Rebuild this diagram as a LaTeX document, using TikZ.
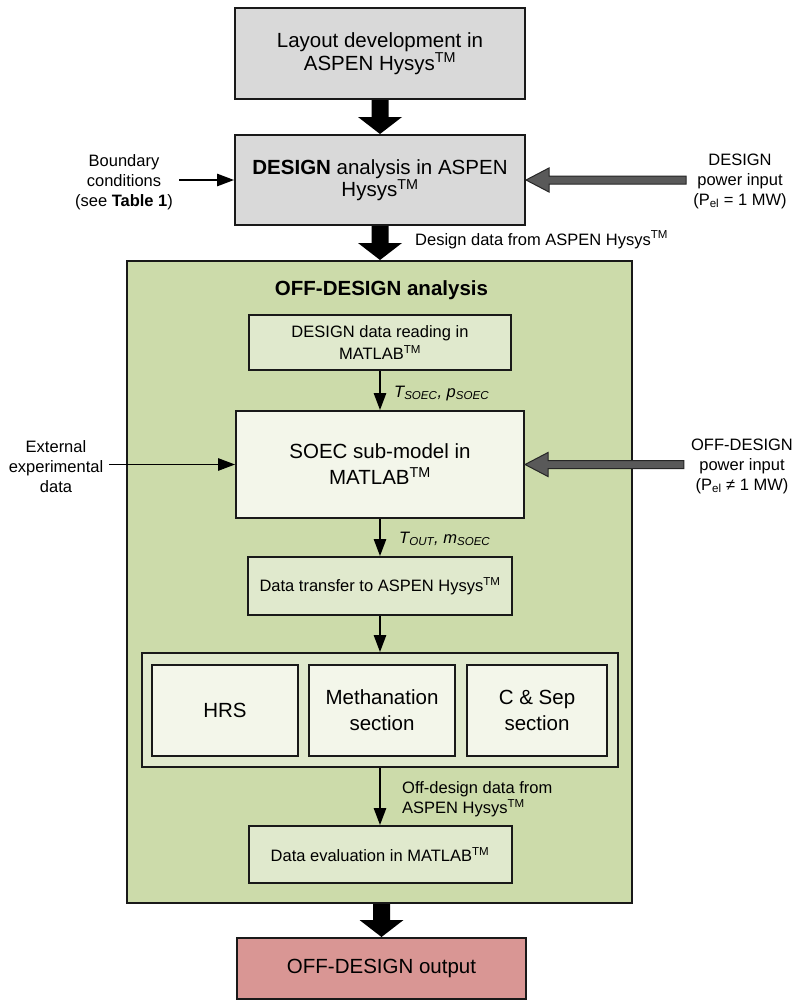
\documentclass[tikz,border=0pt]{standalone}
\usepackage{fontspec}
\setmainfont{Liberation Sans}
\usetikzlibrary{arrows.meta,calc}
\newcommand{\tm}{\textsuperscript{TM}}
\definecolor{boxgray}{HTML}{D9D9D9}
\definecolor{outgreen}{HTML}{CCDBAA}
\definecolor{midgreen}{HTML}{E0E9CD}
\definecolor{palegreen}{HTML}{F3F6EA}
\definecolor{outred}{HTML}{D99694}
\definecolor{arrgray}{HTML}{595959}
\newcommand{\nolsl}{\lineskiplimit=-100pt\relax}
\newcommand{\bigarrow}[2]{%
  \fill ($(#1)+(-8.5,0)$) -- ($(#2)+(-8.5,-17)$) -- ($(#2)+(-22,-17)$) -- (#2)
     -- ($(#2)+(22,-17)$) -- ($(#2)+(8.5,-17)$) -- ($(#1)+(8.5,0)$) -- cycle;}
\newcommand{\grayarrow}[2]{%
  \draw[grayarr] (#2) -- ++(23,-12) -- ++(0,8) -- ($(#1.west |- #2)+(0,-4)$)
     -- ++(0,8) -- ($(#2)+(23,4)$) -- ++(0,8) -- cycle;}
\begin{document}
\begin{tikzpicture}[x=1pt,y=-1pt,
  bigf/.style={font={\fontsize{20.5}{#1}\selectfont\nolsl}},
  bigf/.default=24,
  smallf/.style={font={\fontsize{16.5}{#1}\selectfont\nolsl}},
  smallf/.default=20,
  box/.style={draw=black!90, line width=2pt, align=center, inner sep=0pt},
  lab/.style={align=center, inner sep=6pt, smallf},
  thinarr/.style={line width=1.3pt, -{Triangle[length=17pt,width=12.5pt]}},
  grayarr/.style={fill=arrgray, draw=black!85, line width=1pt, line join=miter}
]
\fill[white] (0,0) rectangle (801,1001);
\useasboundingbox (0,0) rectangle (801,1001);

% top boxes
\node[box, fill=boxgray, minimum width=290, minimum height=91, bigf=23] (layout) at (380,53.5)
  {Layout development in\\ASPEN Hysys\tm};
\node[box, fill=boxgray, minimum width=290, minimum height=90, bigf=22.5] (design) at (380,180)
  {\textbf{DESIGN} analysis in ASPEN\\Hysys\tm};
\bigarrow{layout.south}{design.north}

% side labels design
\node[lab] (bc) at (124,182) {Boundary\\conditions\\(see \textbf{Table 1})};
\draw[thinarr] (bc.east |- design.west) -- (design.west);
\node[lab, inner sep=7pt] (dpin) at (740,181) {DESIGN\\power input\\(P\textsubscript{el} = 1 MW)};
\grayarrow{dpin}{design.east}

% off-design frame
\node[box, fill=outgreen, minimum width=505, minimum height=642] (offd) at (379.5,582) {};
\bigarrow{design.south}{design.south |- offd.north}
\node[smallf, anchor=base west, inner sep=0pt] (ddlab) at (415,245) {Design data from ASPEN Hysys\tm};
\node[bigf, anchor=base, inner sep=0pt] (offtitle) at (381.5,295) {\textbf{OFF-DESIGN analysis}};

\node[box, fill=midgreen, minimum width=262, minimum height=55, smallf=22] (read) at (380,342.5)
  {DESIGN data reading in\\MATLAB\tm};
\node[box, fill=palegreen, minimum width=288, minimum height=107, bigf=26] (soec) at (380,464.5)
  {SOEC sub-model in\\MATLAB\tm};
\draw[thinarr] (read.south) -- (soec.north);
\node[smallf, anchor=base west, inner sep=0pt] (tsoec) at (394,397)
  {\itshape T\textsubscript{SOEC}, p\textsubscript{SOEC}};

\node[lab] (ext) at (56,467) {External\\experimental\\data};
\draw[thinarr] (ext.east |- soec.west) -- (soec.west);
\node[lab, inner sep=7pt] (opin) at (742,466) {OFF-DESIGN\\power input\\(P\textsubscript{el} ≠ 1 MW)};
\grayarrow{opin}{soec.east}

\node[box, fill=midgreen, minimum width=264, minimum height=58, smallf] (transfer) at (380,586)
  {Data transfer to ASPEN Hysys\tm};
\draw[thinarr] (soec.south) -- (transfer.north);
\node[smallf, anchor=base west, inner sep=0pt] (tout) at (399,543)
  {\itshape T\textsubscript{OUT}, m\textsubscript{SOEC}};

\node[box, fill=midgreen, minimum width=476, minimum height=114] (sect) at (380,710) {};
\node[box, fill=palegreen, minimum width=146, minimum height=91, bigf] (hrs) at (225,710.5) {HRS};
\node[box, fill=palegreen, minimum width=146, minimum height=91, bigf=26] (meth) at (382,710.5) {Methanation\\section};
\node[box, fill=palegreen, minimum width=140, minimum height=91, bigf=26] (csep) at (537,710.5) {C \& Sep\\section};
\draw[thinarr] (transfer.south) -- (sect.north);

\node[box, fill=midgreen, minimum width=263, minimum height=57, smallf] (eval) at (380,854.5)
  {Data evaluation in MATLAB\tm};
\draw[thinarr] (sect.south) -- (eval.north);
\node[smallf, align=left, anchor=west, inner sep=0pt] (offlab) at (402,799)
  {Off-design data from\\ASPEN Hysys\tm};

\node[box, fill=outred, minimum width=289, minimum height=61, bigf] (out) at (381.5,968.5)
  {OFF-DESIGN output};
\bigarrow{out.north |- offd.south}{out.north}
\end{tikzpicture}
\end{document}
